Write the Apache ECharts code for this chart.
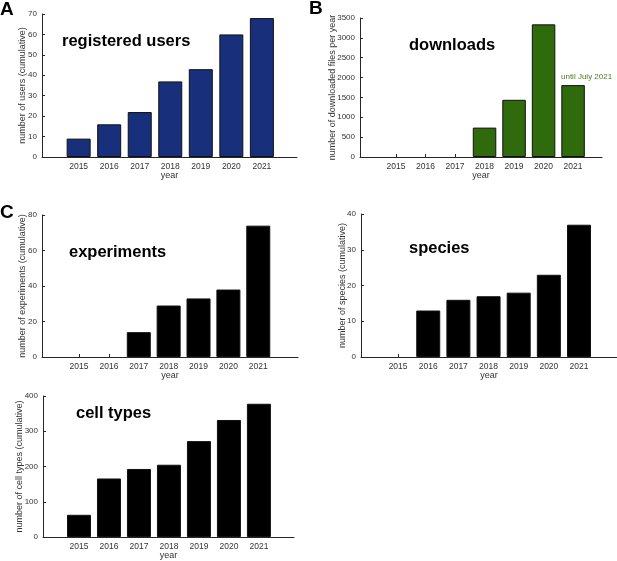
<!DOCTYPE html>
<html>
<head>
<meta charset="utf-8">
<script src="https://cdn.jsdelivr.net/npm/echarts@6/dist/echarts.min.js"></script>
<style>
  html, body { margin: 0; padding: 0; background: #fff; }
  #chart { width: 617px; height: 561px; }
</style>
</head>
<body>
<div id="chart"></div>
<script>
const years = [2015, 2016, 2017, 2018, 2019, 2020, 2021]
const users = [9, 16, 22, 37, 43, 60, 68]
const downloads = [0, 0, 0, 740, 1440, 3340, 1810]
const experiments = [0, 0, 14, 29, 33, 38, 74]
const species = [0, 13, 16, 17, 18, 23, 37]
const cellTypes = [63, 166, 193, 205, 272, 332, 378]

const FONT = 'Liberation Sans, Arial, Helvetica, sans-serif'
const AXIS_COLOR = '#262626'
const LABEL_COLOR = '#333'

// one entry per panel: grid box in px, x range, y range, look
const panels = [
  { values: users, grid: [42, 14, 255, 143], x: [2013.8, 2022.15], y: [0, 70, 10],
    color: '#18307c', yName: 'number of users (cumulative)', nameGap: 15, barWidth: 24 },
  { values: downloads, grid: [360, 18, 242, 139], x: [2013.78, 2021.98], y: [0, 3500, 500],
    color: '#2f6a0c', yName: 'number of downloaded files per year', nameGap: 23, barWidth: 23.5 },
  { values: experiments, grid: [42, 215, 256, 142], x: [2013.76, 2022.33], y: [0, 80, 20],
    color: '#000', yName: 'number of experiments (cumulative)', nameGap: 15, barWidth: 24 },
  { values: species, grid: [361, 214, 256, 143], x: [2013.77, 2022.26], y: [0, 40, 10],
    color: '#000', yName: 'number of species (cumulative)', nameGap: 14, barWidth: 24 },
  { values: cellTypes, grid: [43, 396, 251, 141], x: [2013.8, 2022.17], y: [0, 400, 100],
    color: '#000', yName: 'number of cell types (cumulative)', nameGap: 19, barWidth: 24 }
]

const titles = [
  { text: 'registered users', x: 62, y: 42 },
  { text: 'downloads', x: 409, y: 46 },
  { text: 'experiments', x: 69, y: 253 },
  { text: 'species', x: 409, y: 249 },
  { text: 'cell types', x: 76, y: 414 }
]

const letters = [
  { text: 'A', x: 0, y: 10 },
  { text: 'B', x: 309, y: 9 },
  { text: 'C', x: 0, y: 213 }
]

const chart = echarts.init(document.getElementById('chart'), null, { renderer: 'canvas' })

const option = {
  animation: false,
  grid: panels.map(p => ({
    left: p.grid[0],
    top: p.grid[1],
    width: p.grid[2],
    height: p.grid[3],
    containLabel: false,
    outerBoundsMode: 'none'
  })),
  xAxis: panels.map((p, i) => ({
    type: 'value',
    gridIndex: i,
    min: p.x[0],
    max: p.x[1],
    name: 'year',
    nameLocation: 'middle',
    nameGap: 14,
    nameMoveOverlap: false,
    nameTextStyle: { color: LABEL_COLOR, fontSize: 9, fontFamily: FONT },
    splitLine: { show: false },
    axisLine: { show: true, onZero: false, lineStyle: { color: AXIS_COLOR, width: 1 } },
    axisTick: { show: true, inside: true, length: 3, customValues: years,
      lineStyle: { color: AXIS_COLOR } },
    axisLabel: { customValues: years, margin: 5, color: LABEL_COLOR, fontSize: 8.5,
      fontFamily: FONT, formatter: v => String(v) }
  })),
  yAxis: panels.map((p, i) => ({
    type: 'value',
    gridIndex: i,
    min: p.y[0],
    max: p.y[1],
    interval: p.y[2],
    name: p.yName,
    nameLocation: 'middle',
    nameRotate: 90,
    nameGap: p.nameGap,
    nameMoveOverlap: false,
    nameTextStyle: { color: LABEL_COLOR, fontSize: 9, fontFamily: FONT },
    splitLine: { show: false },
    axisLine: { show: true, lineStyle: { color: AXIS_COLOR, width: 1 } },
    axisTick: { show: true, inside: true, length: 3, lineStyle: { color: AXIS_COLOR } },
    axisLabel: { margin: 5, color: LABEL_COLOR, fontSize: 8, fontFamily: FONT,
      formatter: v => String(v) }
  })),
  series: panels.map((p, i) => ({
    type: 'bar',
    xAxisIndex: i,
    yAxisIndex: i,
    barWidth: p.barWidth,
    itemStyle: { color: p.color, borderColor: '#111', borderWidth: 1 },
    // zero counts are not drawn as bars
    data: years.map((yr, k) => [yr, p.values[k]]).filter(d => d[1] > 0)
  })),
  graphic: [
    ...titles.map(t => ({
      type: 'text',
      left: t.x,
      top: t.y - 9,
      style: { text: t.text, fill: '#000', font: 'bold 16.5px ' + FONT }
    })),
    ...letters.map(t => ({
      type: 'text',
      left: t.x,
      top: t.y - 10,
      style: { text: t.text, fill: '#000', font: 'bold 19px ' + FONT }
    })),
    {
      type: 'text',
      left: 561,
      top: 73,
      style: { text: 'until July 2021', fill: '#4a7d22', font: '8px ' + FONT }
    }
  ]
}

chart.setOption(option)
</script>
</body>
</html>
